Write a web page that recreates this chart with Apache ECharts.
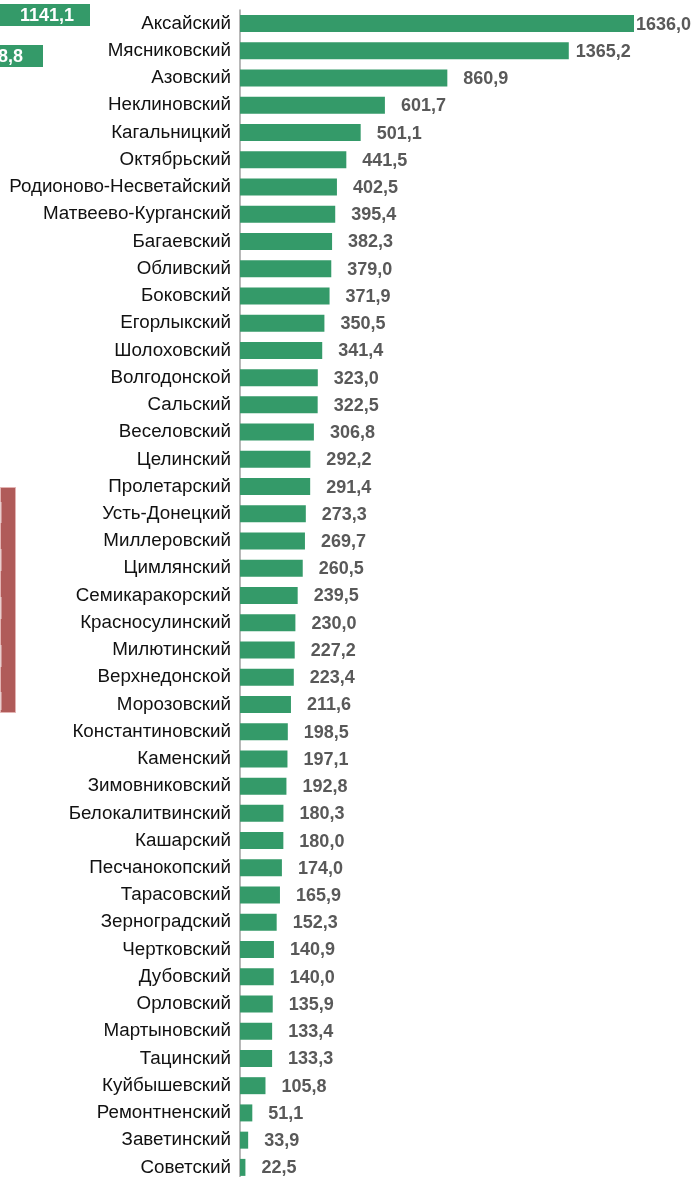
<!DOCTYPE html>
<html>
<head>
<meta charset="utf-8">
<script src="https://cdn.jsdelivr.net/npm/echarts@6/dist/echarts.min.js"></script>
<style>
  html, body { margin: 0; padding: 0; background: #fff; }
  #chart { width: 695px; height: 1177px; }
</style>
</head>
<body>
<div id="chart"></div>
<script>
// Районы Ростовской области и значения показателя
const districts = [
  'Аксайский', 'Мясниковский', 'Азовский', 'Неклиновский', 'Кагальницкий',
  'Октябрьский', 'Родионово-Несветайский', 'Матвеево-Курганский', 'Багаевский',
  'Обливский', 'Боковский', 'Егорлыкский', 'Шолоховский', 'Волгодонской',
  'Сальский', 'Веселовский', 'Целинский', 'Пролетарский', 'Усть-Донецкий',
  'Миллеровский', 'Цимлянский', 'Семикаракорский', 'Красносулинский',
  'Милютинский', 'Верхнедонской', 'Морозовский', 'Константиновский',
  'Каменский', 'Зимовниковский', 'Белокалитвинский', 'Кашарский',
  'Песчанокопский', 'Тарасовский', 'Зерноградский', 'Чертковский',
  'Дубовский', 'Орловский', 'Мартыновский', 'Тацинский', 'Куйбышевский',
  'Ремонтненский', 'Заветинский', 'Советский'
];
const values = [
  1636.0, 1365.2, 860.9, 601.7, 501.1,
  441.5, 402.5, 395.4, 382.3,
  379.0, 371.9, 350.5, 341.4, 323.0,
  322.5, 306.8, 292.2, 291.4, 273.3,
  269.7, 260.5, 239.5, 230.0,
  227.2, 223.4, 211.6, 198.5,
  197.1, 192.8, 180.3, 180.0,
  174.0, 165.9, 152.3, 140.9,
  140.0, 135.9, 133.4, 133.3, 105.8,
  51.1, 33.9, 22.5
];
// Подписи соседних фрагментов у левого края
const sideLabels = ['1141,1', '8,8'];

const GREEN = '#349a69';
const FONT = '"Liberation Sans", Arial, sans-serif';
const fmt = v => v.toFixed(1).replace('.', ',');

// Длинные столбцы подписываются почти вплотную к концу
const labelGap = [2, 7];
const seriesData = values.map((v, i) => {
  const item = { value: v };
  if (i < labelGap.length) item.label = { distance: labelGap[i] };
  return item;
});

const chart = echarts.init(document.getElementById('chart'), null, { renderer: 'canvas' });
chart.setOption({
  animation: false,
  backgroundColor: '#ffffff',
  grid: {
    left: 240, top: 10, height: 1171, width: 394,
    containLabel: false,
    outerBoundsMode: 'none'
  },
  xAxis: {
    type: 'value',
    min: 0,
    max: 'dataMax',
    show: false
  },
  yAxis: {
    type: 'category',
    data: districts,
    inverse: true,
    axisLine: { show: true, lineStyle: { color: '#a0a0a0', width: 1.5 } },
    axisTick: { show: false },
    axisLabel: {
      color: '#111111',
      fontFamily: FONT,
      fontSize: 18.8,
      margin: 9
    }
  },
  series: [{
    type: 'bar',
    data: seriesData,
    barWidth: 17,
    itemStyle: { color: GREEN },
    label: {
      show: true,
      position: 'right',
      distance: 16,
      offset: [0, 1],
      color: '#595959',
      fontFamily: FONT,
      fontWeight: 'bold',
      fontSize: 18,
      formatter: p => fmt(p.value)
    }
  }],
  graphic: [
    { type: 'rect', left: 0, top: 4, shape: { width: 90, height: 22 }, style: { fill: GREEN } },
    { type: 'text', left: 20, top: 7, style: { text: sideLabels[0], fill: '#ffffff', font: 'bold 18px ' + FONT } },
    { type: 'rect', left: 0, top: 45, shape: { width: 43, height: 22 }, style: { fill: GREEN } },
    { type: 'text', left: -2, top: 48, style: { text: sideLabels[1], fill: '#ffffff', font: 'bold 18px ' + FONT } },
    { type: 'rect', left: 0, top: 487, shape: { width: 15, height: 225 }, style: { fill: '#b05b59', stroke: '#e3b3b2', lineWidth: 1 } },
    { type: 'rect', left: 0, top: 502, shape: { width: 1.5, height: 21 }, style: { fill: '#e9cfcf' } },
    { type: 'rect', left: 0, top: 549, shape: { width: 1.5, height: 22 }, style: { fill: '#e9cfcf' } },
    { type: 'rect', left: 0, top: 597, shape: { width: 1.5, height: 22 }, style: { fill: '#e9cfcf' } },
    { type: 'rect', left: 0, top: 645, shape: { width: 1.5, height: 22 }, style: { fill: '#e9cfcf' } },
    { type: 'rect', left: 0, top: 692, shape: { width: 1.5, height: 18 }, style: { fill: '#e9cfcf' } }
  ]
});
</script>
</body>
</html>
